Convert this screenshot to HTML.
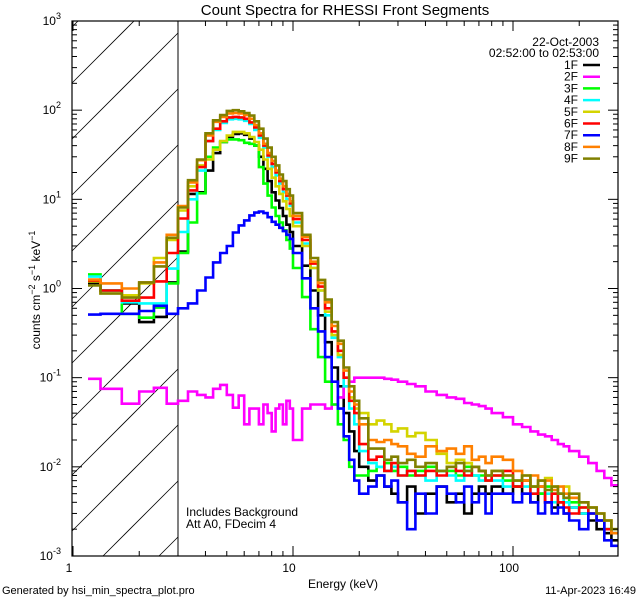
<!DOCTYPE html>
<html><head><meta charset="utf-8"><style>
html,body{margin:0;padding:0;background:#fff;width:640px;height:600px;overflow:hidden}
svg{display:block;font-family:"Liberation Sans",sans-serif}
</style></head><body>
<svg id="chart" width="640" height="600" viewBox="0 0 640 600">
<defs><clipPath id="plotclip"><rect x="72" y="21" width="546" height="535"/></clipPath></defs>
<rect x="0" y="0" width="640" height="600" fill="#fff"/>
<text x="345" y="15" font-size="15" text-anchor="middle">Count Spectra for RHESSI Front Segments</text>
<g id="hatch"></g>
<line x1="178" y1="21" x2="178" y2="556" stroke="#000" stroke-width="1"/>
<g id="series" clip-path="url(#plotclip)"></g>
<rect x="72" y="21" width="546" height="535" fill="none" stroke="#000" stroke-width="1.2"/>
<g id="axes"></g>
<text x="40" y="290" font-size="12" text-anchor="middle" transform="rotate(-90 40 290)">counts cm<tspan baseline-shift="super" font-size="9">−2</tspan> s<tspan baseline-shift="super" font-size="9">−1</tspan> keV<tspan baseline-shift="super" font-size="9">−1</tspan></text>
<text x="343" y="588" font-size="12" text-anchor="middle">Energy (keV)</text>
<text x="2" y="594" font-size="11">Generated by hsi_min_spectra_plot.pro</text>
<text x="636" y="594" font-size="11" text-anchor="end">11-Apr-2023 16:49</text>
<text x="186" y="516" font-size="12">Includes Background</text>
<text x="186" y="528" font-size="12">Att A0, FDecim 4</text>
<text x="599" y="46" font-size="12" text-anchor="end">22-Oct-2003</text>
<text x="599" y="57" font-size="12" text-anchor="end">02:52:00 to 02:53:00</text>
<g id="legend"></g>
</svg>
<script>
const NS="http://www.w3.org/2000/svg";
const edges=[1.17,1.333,1.667,2,2.333,2.667,3,3.333,3.667,4,4.333,4.667,5,5.333,5.667,6,6.333,6.667,7,7.333,7.667,8,8.333,8.667,9,9.333,9.667,10,11,12,13,14,15,16,17,18,19,20,22,24,26,28,30,33,36,40,45,50,55,60,65,70,75,80,90,100,110,120,130,140,150,160,170,180,200,220,240,260,280,300];
const seriesNames=["1F","2F","3F","4F","5F","6F","7F","8F","9F"];
const seriesColors=["#000000","#ff00ff","#00ff00","#00ffff","#d4d400","#ff0000","#0000ff","#ff8000","#808000"];
const s1F=[1.15,0.95,0.68,0.42,0.48,1.17, 2.6,11.5,12,21,33,44,50,54,55,53,48,40,30,22,16,12,9.7,8,6.5,5.2,4.3, 3.0,1.8,0.95,0.5,0.25,0.13,0.08,0.04,0.025,0.015, 0.01,0.007,0.008,0.006,0.005,0.004,0.006,0.003,0.005,0.006,0.004,0.005,0.003,0.005,0.006,0.005,0.006,0.005,0.006,0.005,0.004,0.005,0.004,0.0035,0.004,0.003,0.0035,0.003,0.0025,0.002,0.0018,0.0015];
const s2F=[0.097,0.075,0.051,0.07,0.077,0.051, 0.055,0.07,0.064,0.06,0.075,0.083,0.064,0.046,0.063,0.03,0.045,0.045,0.03,0.05,0.04,0.025,0.045,0.05,0.03,0.055,0.045, 0.02,0.045,0.05,0.05,0.045,0.05,0.06,0.08,0.09,0.1, 0.1,0.1,0.1,0.097,0.095,0.09,0.085,0.08,0.07,0.064,0.06,0.058,0.052,0.05,0.048,0.045,0.04,0.036,0.03,0.028,0.025,0.023,0.022,0.02,0.018,0.017,0.015,0.013,0.011,0.009,0.0075,0.0062];
const s3F=[1.44,0.95,0.52,0.47,0.61,1.14, 2.5,5.5,11.7,30,38,44,47,47,46,43,42,40,23,15,11,8.1,6.5,5.5,4.5,3.5,2.8, 1.7,0.8,0.35,0.17,0.09,0.05,0.03,0.02,0.01,0.008, 0.008,0.009,0.01,0.011,0.009,0.01,0.008,0.009,0.01,0.009,0.009,0.008,0.01,0.008,0.008,0.007,0.008,0.007,0.006,0.007,0.006,0.005,0.006,0.005,0.005,0.0045,0.004,0.0035,0.003,0.0025,0.002,0.0018];
const s4F=[1.36,0.95,0.70,0.68,0.68,1.67, 4.3,10,21,45,60,72,79,80,79,76,70,60,49,38,30,23,18.5,15,12,10,8.5, 5.5,3.2,1.7,0.95,0.5,0.28,0.17,0.08,0.045,0.03, 0.015,0.011,0.01,0.009,0.01,0.008,0.009,0.008,0.007,0.009,0.008,0.007,0.009,0.008,0.007,0.008,0.007,0.006,0.007,0.006,0.005,0.006,0.005,0.004,0.005,0.004,0.0035,0.003,0.0035,0.0025,0.002,0.0018];
const s5F=[1.2,0.88,0.84,1.14,2.2,3.5, 7.5,14,24,28,36,45,52,57,57,55,50,44,36,28,22,17.5,14,11.5,9.5,7.8,6.5, 5,3.0,1.7,0.95,0.55,0.3,0.18,0.1,0.06,0.045, 0.04,0.03,0.033,0.03,0.025,0.027,0.022,0.024,0.02,0.014,0.011,0.012,0.011,0.01,0.009,0.008,0.009,0.008,0.007,0.008,0.006,0.007,0.0075,0.006,0.005,0.006,0.0045,0.004,0.0035,0.003,0.0025,0.002];
const s6F=[1.23,0.95,0.73,0.79,1.2,2.5, 6.1,12.6,23,45,62,75,83,84,83,80,73,64,52,40,31,25,20,16,13,11,9, 6,3.5,1.9,1.05,0.6,0.33,0.2,0.1,0.055,0.04, 0.018,0.012,0.013,0.009,0.011,0.008,0.009,0.008,0.009,0.008,0.01,0.009,0.008,0.01,0.009,0.007,0.008,0.009,0.006,0.007,0.005,0.006,0.004,0.005,0.004,0.0035,0.003,0.0035,0.003,0.0025,0.002,0.0018];
const s7F=[0.51,0.52,0.52,0.56,0.64,0.52, 0.6,0.68,0.95,1.33,1.96,2.5,3.0,4.25,5.1,5.8,6.6,7.1,7.3,7.0,6.3,5.6,5.2,4.8,4.4,4.0,3.6, 2.5,1.3,0.6,0.33,0.17,0.09,0.045,0.022,0.012,0.007, 0.005,0.006,0.008,0.006,0.007,0.004,0.002,0.005,0.003,0.006,0.005,0.004,0.006,0.004,0.005,0.003,0.005,0.005,0.004,0.005,0.004,0.003,0.004,0.003,0.0035,0.003,0.0025,0.002,0.003,0.0025,0.0015,0.0013];
const s8F=[1.26,1.14,1.0,1.17,1.96,4.0, 8.4,15.5,27.5,52,74,84,92,93,92,88,80,68,55,42,33,27,21,17,14,11.5,9.5, 6.5,3.8,2.0,1.15,0.7,0.38,0.24,0.12,0.07,0.05, 0.03,0.02,0.019,0.02,0.018,0.017,0.014,0.013,0.017,0.015,0.016,0.014,0.017,0.012,0.013,0.011,0.013,0.012,0.009,0.007,0.008,0.006,0.007,0.0055,0.006,0.005,0.0045,0.004,0.0035,0.003,0.0025,0.0018];
const s9F=[1.08,0.88,0.79,1.17,1.77,3.7, 8.1,16.4,28,55,77,88,98,100,97,93,87,75,62,48,38,30,24,19,16,13,11, 7,4.0,2.2,1.25,0.75,0.42,0.26,0.13,0.08,0.055, 0.035,0.016,0.016,0.012,0.013,0.011,0.012,0.01,0.011,0.009,0.01,0.011,0.009,0.01,0.009,0.008,0.009,0.008,0.007,0.008,0.006,0.007,0.0055,0.006,0.005,0.0045,0.005,0.004,0.0035,0.003,0.0025,0.002];
const seriesValues=[s1F,s2F,s3F,s4F,s5F,s6F,s7F,s8F,s9F];
const xMajor=[1,10,100];
const xMajorLabels=["1","10","100"];
const yMajor=[-3,-2,-1,0,1,2,3];

const X0=72,X1=618,Y0=21,Y1=556;
const xmin=1,xmax=300,ymin=-3,ymax=3;
function xs(e){return 73+220*Math.log10(e);}
function ys(v){return Y1-(Math.log10(v)-ymin)/(ymax-ymin)*(Y1-Y0);}
function mk(tag,attrs,parent){const el=document.createElementNS(NS,tag);for(const k in attrs)el.setAttribute(k,attrs[k]);parent.appendChild(el);return el;}

// hatch lines: y = b - (x - 72), clipped analytically to [72,178] x [21,556]
const hatch=document.getElementById('hatch');
const HX0=72,HX1=178;
for(let k=-3;k<12;k++){
  const b=83+56*k;
  let xa=HX0, xb=HX1;
  // y at x: b-(x-72); need Y0<=y<=Y1
  xa=Math.max(xa, 72+b-Y1);
  xb=Math.min(xb, 72+b-Y0);
  if(xb<=xa) continue;
  const ln=mk('line',{x1:xa.toFixed(1),y1:(b-(xa-72)).toFixed(1),x2:xb.toFixed(1),y2:(b-(xb-72)).toFixed(1),stroke:'#000','stroke-width':0.8},hatch);
  
  
}

const sg=document.getElementById('series');
seriesValues.forEach((vals,si)=>{
  let d='';
  for(let i=0;i<vals.length;i++){
    const xa=xs(edges[i]).toFixed(1),xb=Math.min(xs(edges[i+1]),X1).toFixed(1),y=Math.min(ys(Math.max(vals[i],1e-3)),Y1).toFixed(1);
    d+=(i===0?'M':'L')+xa+' '+y+' L'+xb+' '+y+' ';
  }
  const p=mk('path',{d:d,fill:'none',stroke:seriesColors[si],'stroke-width':2.6,'stroke-linejoin':'miter'},sg);
  
  
});

const ax=document.getElementById('axes');
for(let dec=0;dec<3;dec++){
  for(let m=1;m<10;m++){
    const e=m*Math.pow(10,dec); if(e>xmax) break;
    const x=xs(e); if(x<X0||x>X1) continue;
    const len=(m===1)?10:5;
    const t1=mk('line',{x1:x,y1:Y1,x2:x,y2:Y1-len,stroke:'#000','stroke-width':1},ax);
    
    
    const t2=mk('line',{x1:x,y1:Y0,x2:x,y2:Y0+len,stroke:'#000','stroke-width':1},ax);
    
    
  }
}
xMajor.forEach((e,i)=>{
  const t=mk('text',{x:xs(e)-4,y:572,'font-size':12,'text-anchor':'middle'},ax);
  t.textContent=xMajorLabels[i];
  
  
});
for(let p=ymin;p<ymax;p++){
  for(let m=1;m<10;m++){
    const y=ys(m*Math.pow(10,p));
    const len=(m===1)?10:5;
    const a=mk('line',{x1:X0,y1:y,x2:X0+len,y2:y,stroke:'#000','stroke-width':1},ax);
    
    
    const b=mk('line',{x1:X1,y1:y,x2:X1-len,y2:y,stroke:'#000','stroke-width':1},ax);
    
    
  }
}
yMajor.forEach(p=>{
  const y=ys(Math.pow(10,p));
  const t=mk('text',{x:61,y:y+4,'font-size':12,'text-anchor':'end'},ax);
  t.textContent='10';
  const s=mk('tspan',{dy:-6,'font-size':9},t);
  s.textContent=String(p);
  
  
});

const lg=document.getElementById('legend');
seriesNames.forEach((n,i)=>{
  const y=65+11.7*i;
  const t=mk('text',{x:578,y:y+4,'font-size':12,'text-anchor':'end'},lg);
  t.textContent=n;
  
  
  const l=mk('line',{x1:583,y1:y,x2:600,y2:y,stroke:seriesColors[i],'stroke-width':2.5},lg);
  
  
});
</script>
</body></html>
